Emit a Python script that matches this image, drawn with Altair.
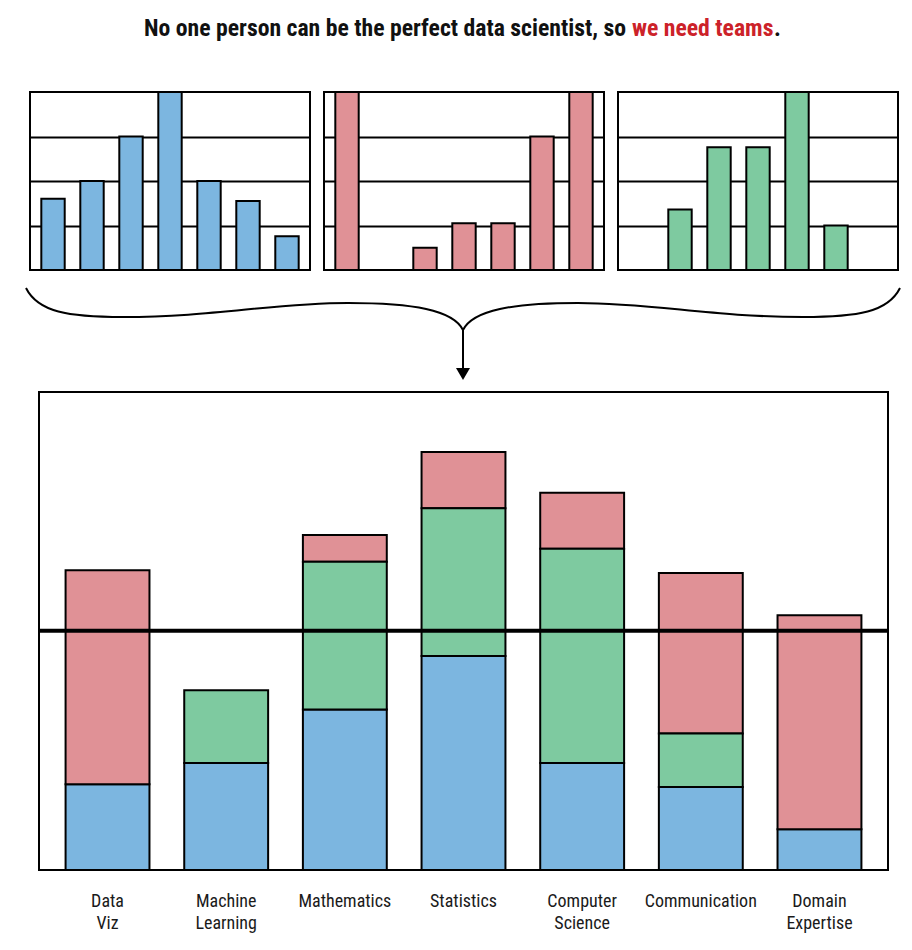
import altair as alt
import pandas as pd

# ---------------- data ----------------
skills = ["Data Viz", "Machine Learning", "Mathematics", "Statistics",
          "Computer Science", "Communication", "Domain Expertise"]
person_a = [1.6, 2.0, 3.0, 4.0, 2.0, 1.55, 0.76]     # blue
person_b = [4.0, 0.0, 0.5, 1.05, 1.05, 3.0, 4.0]     # red
person_c = [0.0, 1.36, 2.76, 2.76, 4.0, 1.0, 0.0]    # green
people = ["Person A", "Person B", "Person C"]
stack_rank = [0, 2, 1]            # blue bottom, green middle, red top
colors = ["#7cb6e0", "#e09196", "#7ecaa0"]
grid_levels = [1, 2, 3]
threshold = [4.47]
title_black = "No one person can be the perfect data scientist, so"
title_red = "we need teams"
title_end = "."

rows = []
for p, vals, rank in zip(people, [person_a, person_b, person_c], stack_rank):
    for s, v in zip(skills, vals):
        rows.append({"skill": s, "person": p, "value": v, "rank": rank})
df = pd.DataFrame(rows)
df_nz = df[df["value"] > 0]

FONT = "Noto Sans Condensed, Roboto Condensed, Open Sans Condensed, Roboto, sans-serif"
one = pd.DataFrame({"k": [0]})


def spacer(w, h):
    return alt.Chart(one).mark_point(opacity=0, size=1).encode(
        x=alt.value(1), y=alt.value(1)
    ).properties(width=w, height=h)


# ---------------- title row ----------------
TS = 23.7
t_black = alt.Chart(one).mark_text(
    text=title_black, align="right", baseline="middle", font=FONT,
    fontSize=TS, fontWeight="bold", color="#111111"
).encode(x=alt.value(618), y=alt.value(21))
t_red = alt.Chart(one).mark_text(
    text=title_red, align="left", baseline="middle", font=FONT,
    fontSize=TS, fontWeight="bold", color="#cc2229"
).encode(x=alt.value(624), y=alt.value(21))
t_end = alt.Chart(one).mark_text(
    text=title_end, align="left", baseline="middle", font=FONT,
    fontSize=TS, fontWeight="bold", color="#111111"
).encode(x=alt.value(766), y=alt.value(21))
title_row = alt.layer(t_black, t_red, t_end).properties(width=896, height=82)


# ---------------- small panels ----------------
def small(person, color):
    d = df_nz[df_nz["person"] == person]
    return alt.Chart(d).mark_bar(
        color=color, stroke="black", strokeWidth=2, opacity=1
    ).encode(
        x=alt.X("skill:N", sort=skills,
                scale=alt.Scale(domain=skills, paddingInner=0.4, paddingOuter=0.29),
                axis=None),
        y=alt.Y("value:Q", scale=alt.Scale(domain=[0, 4], nice=False),
                axis=alt.Axis(grid=True, values=grid_levels, gridColor="black",
                              gridWidth=2, gridOpacity=1, labels=False,
                              ticks=False, domain=False, title=None)),
    ).properties(width=280, height=178,
                 view=alt.ViewBackground(stroke="black", strokeWidth=2))


small_row = alt.hconcat(
    spacer(9, 178),
    small(people[0], colors[0]),
    small(people[1], colors[1]),
    small(people[2], colors[2]),
    spacing=12,
)

# ---------------- brace + arrow ----------------
S = 437.0
brace_pts = ("M -437 -42 C -425 -18 -395 -13 -340 -13 "
             "C -250 -13 -190 -27 -115 -27 "
             "C -50 -27 -10 -20 0 0 "
             "C 10 -20 50 -27 115 -27 "
             "C 190 -27 250 -13 340 -13 "
             "C 395 -13 425 -18 437 -42 "
             "M 0 0 L 0 40")


def scale_path(p):
    out = []
    for tok in p.split():
        try:
            out.append(f"{float(tok) / S:.5f}")
        except ValueError:
            out.append(tok)
    return " ".join(out)


brace = alt.Chart(one).mark_point(
    shape=scale_path(brace_pts), filled=False, color="black",
    strokeWidth=2, size=(2 * S) ** 2, opacity=1
).encode(x=alt.value(455), y=alt.value(58))
arrow = alt.Chart(one).mark_point(
    shape="M -1 -0.857 L 1 -0.857 L 0 0.857 Z", filled=True, color="black",
    size=196, opacity=1
).encode(x=alt.value(455), y=alt.value(102))
brace_row = alt.layer(brace, arrow).properties(width=896, height=119)

# ---------------- big stacked chart ----------------
bars = alt.Chart(df_nz).mark_bar(stroke="black", strokeWidth=2, opacity=1).encode(
    x=alt.X("skill:N", sort=skills,
            scale=alt.Scale(domain=skills, paddingInner=0.293, paddingOuter=0.224),
            axis=alt.Axis(labelExpr="split(datum.label, ' ')", labelAngle=0,
                          ticks=False, domain=False, title=None, labelPadding=22,
                          labelFontSize=18, labelLineHeight=22, labelFont=FONT,
                          labelColor="#1a1a1a", labelBaseline="top")),
    y=alt.Y("value:Q", stack="zero", scale=alt.Scale(domain=[0, 8.93], nice=False),
            axis=None),
    color=alt.Color("person:N", scale=alt.Scale(domain=people, range=colors),
                    legend=None),
    order=alt.Order("rank:Q"),
)
rule = alt.Chart(pd.DataFrame({"t": threshold})).mark_rule(
    color="black", strokeWidth=4
).encode(y=alt.Y("t:Q", axis=None))
big = alt.layer(bars, rule).properties(
    width=849, height=478,
    view=alt.ViewBackground(stroke="black", strokeWidth=2))
big_row = alt.hconcat(spacer(28, 478), big, spacing=0)

chart = alt.vconcat(title_row, small_row, brace_row, big_row, spacing=0).properties(
    padding=0
).configure(background="white").configure_view(strokeWidth=0, stroke="transparent")

chart.save("out.html", embed_options={"renderer": "svg", "actions": False})
